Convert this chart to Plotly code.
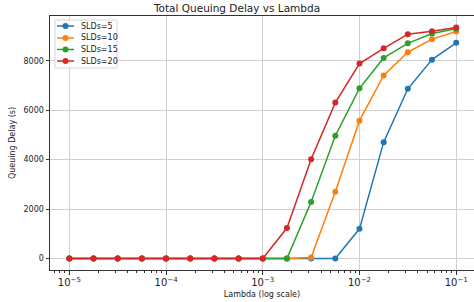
import numpy as np
import plotly.graph_objects as go

lambdas = [1e-5, 1.778e-5, 3.162e-5, 5.623e-5, 1e-4, 1.778e-4, 3.162e-4, 5.623e-4,
           1e-3, 1.778e-3, 3.162e-3, 5.623e-3, 1e-2, 1.778e-2, 3.162e-2, 5.623e-2, 1e-1]
slds5 = [0, 0, 0, 0, 0, 0, 0, 0, 0, 0, 0, 0, 1200, 4710, 6870, 8050, 8730]
slds10 = [0, 0, 0, 0, 0, 0, 0, 0, 0, 0, 40, 2700, 5580, 7410, 8350, 8880, 9190]
slds15 = [0, 0, 0, 0, 0, 0, 0, 0, 0, 0, 2290, 4970, 6890, 8120, 8710, 9110, 9300]
slds20 = [0, 0, 0, 0, 0, 0, 0, 0, 0, 1230, 4020, 6310, 7890, 8510, 9080, 9200, 9350]

series = [("SLDs=5", slds5, "#1f77b4"), ("SLDs=10", slds10, "#ff7f0e"),
          ("SLDs=15", slds15, "#2ca02c"), ("SLDs=20", slds20, "#d62728")]

W, H = 474, 302
ML, MR, MT, MB = 50, 0, 16, 32
PW, PH = W - ML - MR, H - MT - MB


def px(x):
    return (x - ML) / PW


def py(y):
    return (H - MB - y) / PH


fig = go.Figure()
for name, ys, col in series:
    fig.add_trace(go.Scatter(x=lambdas, y=ys, name=name, mode="lines+markers",
                             line=dict(color=col, width=1.5),
                             marker=dict(color=col, size=6), showlegend=False))

# custom legend (matplotlib-like, compact)
shapes = [dict(type="rect", xref="paper", yref="paper",
               x0=px(55), x1=px(117), y0=py(68), y1=py(20),
               line=dict(color="#d5d5d5", width=1), fillcolor="rgba(255,255,255,0.85)", layer="above")]
annotations = []
item_y = [26, 38, 49.5, 61]
for (name, ys, col), yy in zip(series, item_y):
    shapes.append(dict(type="line", xref="paper", yref="paper",
                       x0=px(57), x1=px(74), y0=py(yy), y1=py(yy),
                       line=dict(color=col, width=1.5), layer="above"))
    shapes.append(dict(type="circle", xref="paper", yref="paper",
                       x0=px(62.5), x1=px(68.5), y0=py(yy + 3), y1=py(yy - 3),
                       line=dict(color=col, width=0), fillcolor=col, layer="above"))
    annotations.append(dict(text=name, xref="paper", yref="paper", x=px(79), y=py(yy),
                            xanchor="left", yanchor="middle", showarrow=False,
                            font=dict(size=8, color="#222")))

font = "DejaVu Sans"
fig.update_layout(
    width=W, height=H,
    margin=dict(l=ML, r=MR, t=MT, b=MB),
    paper_bgcolor="white", plot_bgcolor="white",
    font=dict(family=font, size=8, color="#222"),
    title=dict(text="Total Queuing Delay vs Lambda", x=0.5, xanchor="center",
               y=1 - 8 / 302, yanchor="middle", font=dict(size=10.5, color="#222")),
    showlegend=False,
    shapes=shapes, annotations=annotations,
    xaxis=dict(type="log", range=[-5.2, -0.816], dtick=1, exponentformat="power",
               showgrid=True, gridcolor="#d0d0d0", gridwidth=1,
               showline=True, linecolor="#333", linewidth=1, mirror=True,
               ticks="outside", ticklen=3.5, tickcolor="#333", zeroline=False,
               minor=dict(ticks="outside", ticklen=2, tickcolor="#333", dtick="D1", showgrid=False),
               title=dict(text="Lambda (log scale)", font=dict(size=8), standoff=4)),
    yaxis=dict(range=[-467, 9817], tickvals=[0, 2000, 4000, 6000, 8000],
               showgrid=True, gridcolor="#d0d0d0", gridwidth=1,
               showline=True, linecolor="#333", linewidth=1, mirror=True,
               ticks="outside", ticklen=3.5, tickcolor="#333", zeroline=False,
               title=dict(text="Queuing Delay (s)", font=dict(size=8), standoff=6)),
)

fig.write_html("out.html", config={"displayModeBar": False},
               post_script="document.body.style.margin='0';document.body.style.overflow='hidden';")
